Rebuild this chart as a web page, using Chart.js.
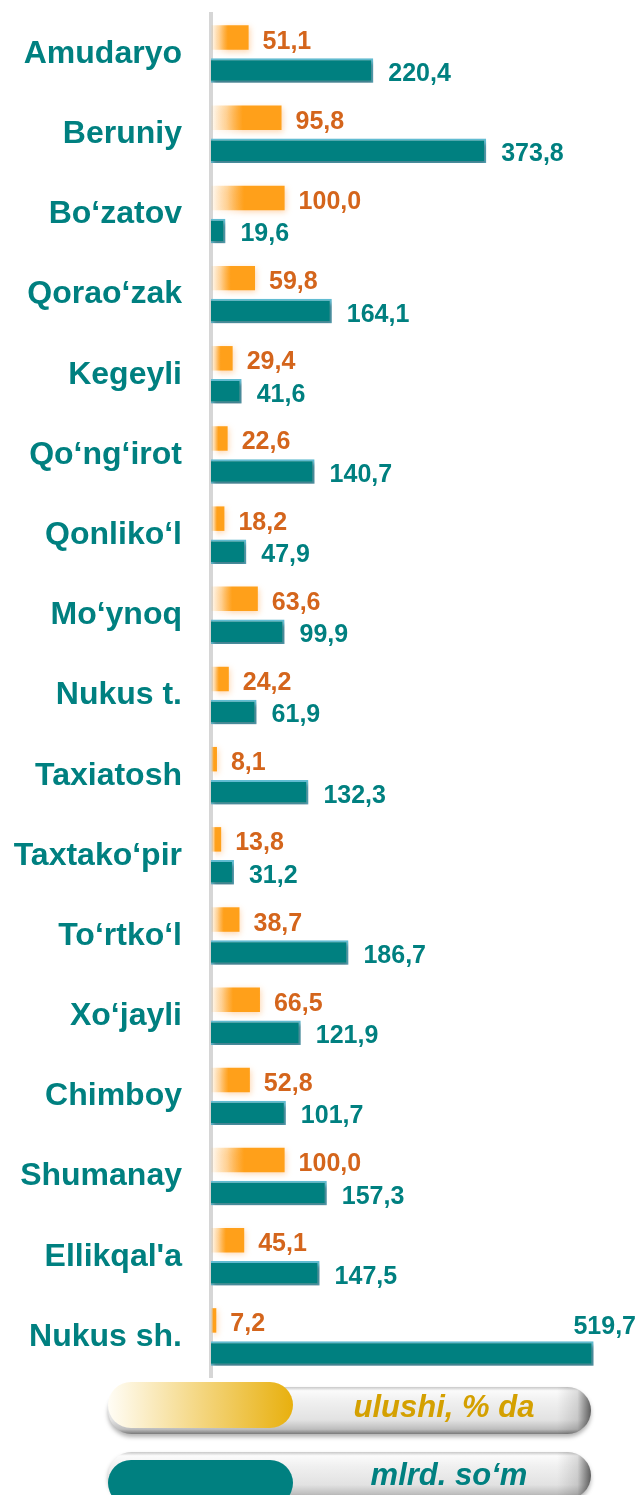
<!DOCTYPE html>
<html>
<head>
<meta charset="utf-8">
<script src="https://cdn.jsdelivr.net/npm/chart.js@4"></script>
<style>
  html, body { margin: 0; padding: 0; background: #fff; }
  #wrap { width: 638px; height: 1495px; }
</style>
</head>
<body>
<div id="wrap"><canvas id="districtChart" width="638" height="1495"></canvas></div>
<script>
// tumanlar
const districts = ['Amudaryo', 'Beruniy', 'Bo‘zatov', 'Qorao‘zak', 'Kegeyli', 'Qo‘ng‘irot', 'Qonliko‘l',
    'Mo‘ynoq', 'Nukus t.', 'Taxiatosh', 'Taxtako‘pir', 'To‘rtko‘l', 'Xo‘jayli', 'Chimboy',
    'Shumanay', 'Ellikqal\'a', 'Nukus sh.'];
// ulushi, % da
const shareValues = [51.1, 95.8, 100.0, 59.8, 29.4, 22.6, 18.2, 63.6, 24.2, 8.1, 13.8, 38.7, 66.5, 52.8, 100.0, 45.1, 7.2];
// mlrd. so'm
const amountValues = [220.4, 373.8, 19.6, 164.1, 41.6, 140.7, 47.9, 99.9, 61.9, 132.3, 31.2, 186.7, 121.9, 101.7, 157.3, 147.5, 519.7];
const seriesLabels = ['ulushi, % da', 'mlrd. so‘m'];

const TEAL = '#008080';
const ORANGE = '#ffa01a';
const FONT = '"Liberation Sans", Arial, sans-serif';

const fmt = v => v.toFixed(1).replace('.', ',');

// orange bars fade in from the axis
function shareGradient(ctx) {
    const chart = ctx.chart;
    if (!chart.chartArea || ctx.type !== 'data') return ORANGE;
    const x0 = chart.scales.x.getPixelForValue(0);
    const x1 = chart.scales.x.getPixelForValue(ctx.raw);
    if (x1 - x0 < 1) return ORANGE;
    const g = chart.ctx.createLinearGradient(x0, 0, x1, 0);
    g.addColorStop(0, 'rgba(255,160,26,0.04)');
    g.addColorStop(0.22, 'rgba(255,160,26,0.4)');
    g.addColorStop(0.45, ORANGE);
    g.addColorStop(1, ORANGE);
    return g;
}

// soft shadows under the bars
const barShadow = {
    id: 'barShadow',
    beforeDatasetDraw(chart, args) {
        const c = chart.ctx;
        c.save();
        if (args.index === 0) {
            c.shadowColor = 'rgba(255,140,30,0.35)';
            c.shadowBlur = 6;
            c.shadowOffsetX = 1;
            c.shadowOffsetY = 2;
        } else {
            c.shadowColor = 'rgba(0,0,0,0.35)';
            c.shadowBlur = 4;
            c.shadowOffsetX = 2;
            c.shadowOffsetY = 3;
        }
    },
    afterDatasetDraw(chart) {
        chart.ctx.restore();
    }
};

// value labels next to bar ends
const valueLabels = {
    id: 'valueLabels',
    afterDatasetsDraw(chart) {
        const c = chart.ctx;
        const area = chart.chartArea;
        c.save();
        c.font = 'bold 25px ' + FONT;
        chart.data.datasets.forEach((ds, di) => {
            const meta = chart.getDatasetMeta(di);
            meta.data.forEach((bar, i) => {
                const text = fmt(ds.data[i]);
                const w = c.measureText(text).width;
                c.fillStyle = di === 0 ? '#d4651c' : TEAL;
                if (bar.x + 15 + w > area.right) {
                    // no room on the right: put it above the bar end
                    c.textAlign = 'right';
                    c.fillText(text, chart.width - 2, bar.y - 28 + 9);
                } else {
                    c.textAlign = 'left';
                    c.fillText(text, bar.x + (di === 0 ? 14 : 15), bar.y + (di === 0 ? 11 : 10.5));
                }
            });
        });
        c.restore();
    }
};

function pillPath(c, x, y, w, h) {
    const r = h / 2;
    c.beginPath();
    c.moveTo(x + r, y);
    c.lineTo(x + w - r, y);
    c.arc(x + w - r, y + r, r, -Math.PI / 2, Math.PI / 2);
    c.lineTo(x + r, y + h);
    c.arc(x + r, y + r, r, Math.PI / 2, Math.PI * 1.5);
    c.closePath();
}

// glossy pill legend under the plot
const pillLegend = {
    id: 'pillLegend',
    afterDraw(chart) {
        const c = chart.ctx;
        const items = [
            { top: 1387, inner: 1382, fill: null, text: '#d4a000', baseline: 1417, cx: 444 },
            { top: 1452, inner: 1460, fill: TEAL, text: TEAL, baseline: 1485, cx: 449 }
        ];
        const x = 108, w = 483, h = 47;
        items.forEach((it, i) => {
            // grey tube
            c.save();
            c.shadowColor = 'rgba(0,0,0,0.3)';
            c.shadowBlur = 4;
            c.shadowOffsetY = 3;
            pillPath(c, x, it.top, w, h);
            const g = c.createLinearGradient(0, it.top, 0, it.top + h);
            g.addColorStop(0, '#c8c8c8');
            g.addColorStop(0.08, '#fbfbfb');
            g.addColorStop(0.3, '#f0f0f0');
            g.addColorStop(0.7, '#e2e2e2');
            g.addColorStop(0.9, '#bdbdbd');
            g.addColorStop(1, '#7a7a7a');
            c.fillStyle = g;
            c.fill();
            c.restore();
            // darker right end
            c.save();
            pillPath(c, x, it.top, w, h);
            c.clip();
            const e = c.createLinearGradient(x + w - 34, 0, x + w, 0);
            e.addColorStop(0, 'rgba(0,0,0,0)');
            e.addColorStop(0.6, 'rgba(0,0,0,0.12)');
            e.addColorStop(1, 'rgba(0,0,0,0.6)');
            c.fillStyle = e;
            c.fillRect(x + w - 34, it.top, 34, h);
            c.restore();
            // coloured swatch
            c.save();
            pillPath(c, x, it.inner, 185, 46);
            if (it.fill) {
                c.fillStyle = it.fill;
            } else {
                const s = c.createLinearGradient(x, 0, x + 185, 0);
                s.addColorStop(0, '#fffdf6');
                s.addColorStop(0.5, '#f4d680');
                s.addColorStop(1, '#e8b00e');
                c.fillStyle = s;
            }
            c.fill();
            c.restore();
            // label
            c.save();
            c.font = 'italic bold 31px ' + FONT;
            c.fillStyle = it.text;
            c.textAlign = 'center';
            c.textBaseline = 'alphabetic';
            c.fillText(chart.data.datasets[i].label, it.cx, it.baseline);
            c.restore();
        });
    }
};

new Chart(document.getElementById('districtChart'), {
    type: 'bar',
    data: {
        labels: districts,
        datasets: [
            {
                label: seriesLabels[0],
                data: shareValues,
                backgroundColor: shareGradient,
                borderWidth: 0,
                categoryPercentage: 0.823,
                barPercentage: 0.742
            },
            {
                label: seriesLabels[1],
                data: amountValues,
                backgroundColor: TEAL,
                borderColor: '#62bdd3',
                borderWidth: 2,
                borderSkipped: 'start',
                categoryPercentage: 0.823,
                barPercentage: 0.742
            }
        ]
    },
    options: {
        indexAxis: 'y',
        responsive: false,
        animation: false,
        layout: { padding: { top: 14, bottom: 118, left: 0, right: 0 } },
        plugins: {
            legend: { display: false },
            tooltip: { enabled: false }
        },
        scales: {
            x: { display: false, min: 0, max: 580 },
            y: {
                afterFit(scale) {
                    scale.width = 211;
                    scale.paddingTop = 0;
                    scale.paddingBottom = 0;
                },
                grid: { drawOnChartArea: false, drawTicks: false },
                border: { color: '#d6d6d6', width: 4 },
                ticks: {
                    padding: 29,
                    color: TEAL,
                    font: { family: FONT, size: 32, weight: 'bold' }
                }
            }
        }
    },
    plugins: [barShadow, valueLabels, pillLegend]
});
</script>
</body>
</html>
